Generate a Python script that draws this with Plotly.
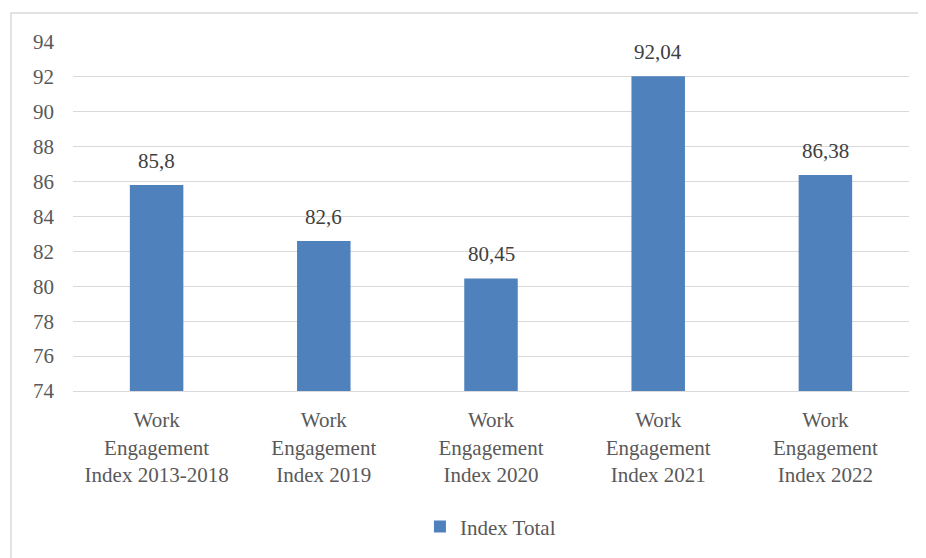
import plotly.graph_objects as go

categories = ["Work<br>Engagement<br>Index 2013-2018", "Work<br>Engagement<br>Index 2019",
              "Work<br>Engagement<br>Index 2020", "Work<br>Engagement<br>Index 2021",
              "Work<br>Engagement<br>Index 2022"]
values = [85.8, 82.6, 80.45, 92.04, 86.38]
series_name = "Index Total"
labels = [str(v).replace(".", ",") for v in values]

FONT = "'Liberation Serif', 'Times New Roman', Tinos, serif"
OFF = 8  # page body margin
W, H = 926 - OFF, 558 - OFF
L, R, T, B = 73 - OFF, 17, 42 - OFF, 166
pw, ph = W - L - R, H - T - B

fig = go.Figure()
fig.add_trace(go.Bar(
    x=categories, y=values, name=series_name,
    marker=dict(color="#4F81BD", line=dict(width=0)),
    showlegend=True,
))
for c, v, t in zip(categories, values, labels):
    fig.add_annotation(x=c, y=v, text=t, showarrow=False, yanchor="bottom", yshift=10,
                       font=dict(family=FONT, size=21, color="#404040"))

fig.update_layout(
    width=W, height=H,
    margin=dict(l=L, r=R, t=T, b=B),
    paper_bgcolor="white", plot_bgcolor="white",
    font=dict(family=FONT, size=21, color="#595959"),
    bargap=0.68,
    showlegend=True,
    legend=dict(orientation="h", x=0.415, xanchor="left", y=-0.385, yanchor="middle",
                font=dict(family=FONT, size=21, color="#595959"), itemwidth=30),
    xaxis=dict(showgrid=False, showline=True, linecolor="#D9D9D9", linewidth=1,
               ticks="", ticklabelstandoff=10, tickfont=dict(family=FONT, size=21, color="#595959")),
    yaxis=dict(range=[74, 94], dtick=2, tick0=74, showgrid=True, gridcolor="#D9D9D9",
               gridwidth=1, zeroline=False, showline=False, ticks="",
               ticklabelstandoff=18, tickfont=dict(family=FONT, size=21, color="#595959")),
    shapes=[dict(type="rect", xref="paper", yref="paper",
                 x0=(11 - OFF - L) / pw, x1=(935 - OFF - L) / pw,
                 y0=(T + ph - 570) / ph, y1=1 + (T - (13 - OFF)) / ph,
                 line=dict(color="#D9D9D9", width=1.5), fillcolor="rgba(0,0,0,0)", layer="below")],
)

fig.write_html("out.html")
